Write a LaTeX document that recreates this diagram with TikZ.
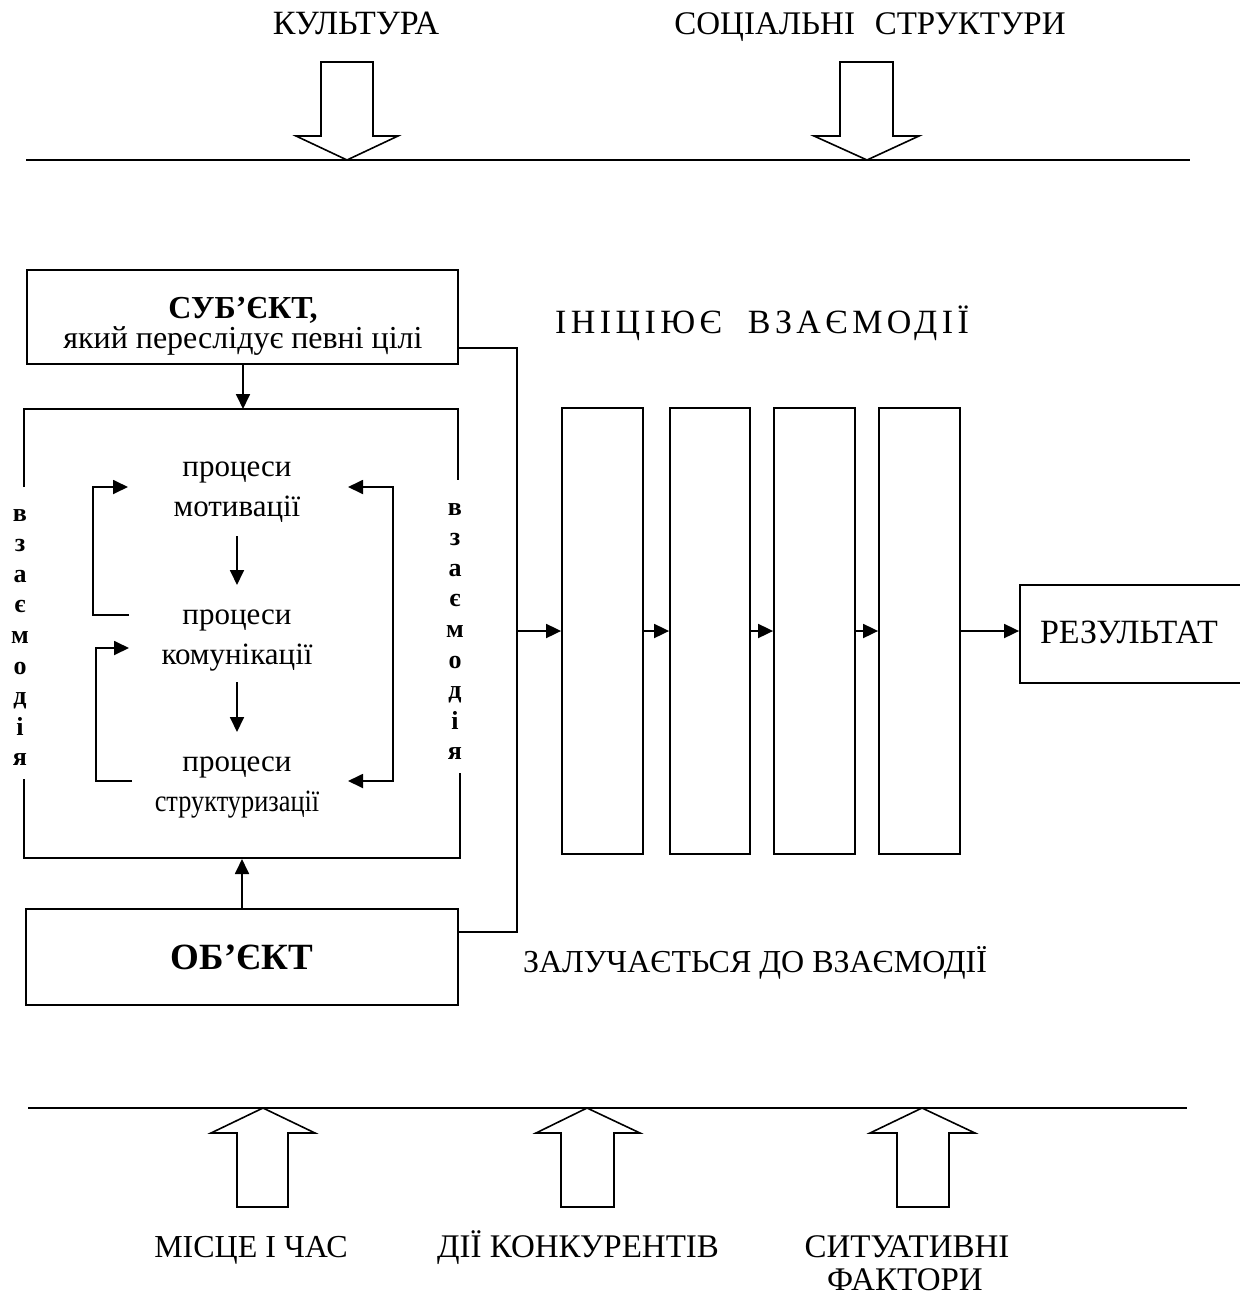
\documentclass[tikz,border=0pt]{standalone}
\usepackage{fontspec}
\usepackage{graphicx}
\setmainfont{Liberation Serif}
\usetikzlibrary{arrows.meta}
\tikzset{
  ln/.style={line width=1.8pt, line cap=butt, line join=miter},
  arr/.style={ln, -{Triangle[length=15pt,width=14pt]}},
  arrboth/.style={ln, {Triangle[length=15pt,width=14pt]}-{Triangle[length=15pt,width=14pt]}},
  lbl/.style={font=\fontsize{31}{40}\selectfont, inner sep=0pt, align=center},
  big/.style={font=\fontsize{34}{40}\selectfont, inner sep=0pt, anchor=base},
  mid/.style={font=\fontsize{33}{40}\selectfont, inner sep=0pt, anchor=base},
  boxx/.style={ln, draw, inner sep=0pt, align=center},
  vert/.style={font=\bfseries\fontsize{26}{30.6}\selectfont, inner sep=0pt, align=center},
  blockarr/.style={line width=1.6pt, line join=miter, fill=white}
}
\begin{document}
\begin{tikzpicture}[x=1pt,y=-1pt]
\useasboundingbox (0,0) rectangle (1239,1295);
% top
\node[big] (cult) at (356,35) {КУЛЬТУРА};
\node[big, font=\fontsize{33}{40}\selectfont] (soc) at (870,35) {СОЦІАЛЬНІ\hspace{0.35em} СТРУКТУРИ};
\coordinate (tl) at (26,160);
\coordinate (tr) at (1190,160);
\draw[ln] (tl) -- (tr);
\draw[blockarr] (321,62) -- (373,62) -- (373,136) -- (398,136) -- (347,160) -- (296,136) -- (321,136) -- cycle;
\draw[blockarr] (840,62) -- (893,62) -- (893,136) -- (919,136) -- (867,160) -- (814,136) -- (840,136) -- cycle;
% subject
\node[boxx, minimum width=431pt, minimum height=94pt] (subj) at (242.5,317) {};
\node[inner sep=0pt, align=center, font=\fontsize{32}{30}\selectfont] (subjT) at (243,326)
  {{\bfseries СУБ’ЄКТ,}\\який переслідує певні цілі};
% frame
\coordinate (ftop) at (243,409);
\coordinate (fbot) at (242,859);
\draw[ln] (24,487) -- (24,409) -- (458,409) -- (458,480);
\draw[ln] (24,779) -- (24,858) -- (460,858) -- (460,773);
\draw[arr] (subj.south -| ftop) -- (ftop);
% inner processes
\node[lbl] (pm) at (237,492.5) {процеси\\мотивації};
\node[lbl] (pk) at (237,641) {процеси\\комунікації};
\node[lbl] (ps) at (237,787.5) {процеси\\\scalebox{0.85}[1]{структуризації}};
\coordinate (d1a) at (237,536); \coordinate (d1b) at (237,585);
\coordinate (d2a) at (237,682); \coordinate (d2b) at (237,732);
\draw[arr] (d1a) -- (d1b);
\draw[arr] (d2a) -- (d2b);
\coordinate (l1s) at (129,615); \coordinate (l1e) at (128,487);
\draw[arr] (l1s) -- (93,615) -- (93,487) -- (l1e);
\coordinate (l2s) at (132,781); \coordinate (l2e) at (129,648);
\draw[arr] (l2s) -- (96,781) -- (96,648) -- (l2e);
\coordinate (r1) at (348,487); \coordinate (r2) at (348,781);
\draw[arrboth] (r1) -- (393,487) -- (393,781) -- (r2);
% vertical words
\node[vert] (vl) at (20,637.5) {в\\з\\а\\є\\м\\о\\д\\і\\я};
\node[vert] (vr) at (455,631.5) {в\\з\\а\\є\\м\\о\\д\\і\\я};
% object
\node[boxx, minimum width=432pt, minimum height=96pt, font=\fontsize{37}{44}\selectfont\bfseries] (obj) at (242,957) {ОБ’ЄКТ};
\draw[arr] (obj.north -| fbot) -- (fbot);
% connector
\coordinate (sj) at (458,348);
\coordinate (oj) at (458,932);
\coordinate (jn) at (517,631);
\draw[ln] (sj) -- (517,348) -- (517,932) -- (oj);
% chain
\node[boxx, minimum width=81pt, minimum height=446pt] (b1) at (602.5,631) {};
\node[boxx, minimum width=80pt, minimum height=446pt] (b2) at (710,631) {};
\node[boxx, minimum width=81pt, minimum height=446pt] (b3) at (814.5,631) {};
\node[boxx, minimum width=81pt, minimum height=446pt] (b4) at (919.5,631) {};
\node[boxx, minimum width=222pt, minimum height=98pt] (res) at (1131,634) {};
\node[big] (resT) at (1129,643) {РЕЗУЛЬТАТ};
\draw[arr] (jn) -- (b1.west);
\draw[arr] (b1.east) -- (b2.west);
\draw[arr] (b2.east) -- (b3.west);
\draw[arr] (b3.east) -- (b4.west);
\draw[arr] (b4.east) -- (b4.east -| res.west);
% texts
\node[big] (init) at (762,333) {\addfontfeature{LetterSpace=13}ІНІЦІЮЄ\ \ ВЗАЄМОДІЇ};
\node[mid, font=\fontsize{32}{40}\selectfont] (inv) at (755,972) {ЗАЛУЧАЄТЬСЯ ДО ВЗАЄМОДІЇ};
% bottom
\coordinate (bl) at (28,1108);
\coordinate (br) at (1187,1108);
\draw[ln] (bl) -- (br);
\draw[blockarr] (237,1207) -- (288,1207) -- (288,1133) -- (315,1133) -- (263,1108) -- (211,1133) -- (237,1133) -- cycle;
\draw[blockarr] (561,1207) -- (614,1207) -- (614,1133) -- (640,1133) -- (587,1108) -- (536,1133) -- (561,1133) -- cycle;
\draw[blockarr] (897,1207) -- (949,1207) -- (949,1133) -- (975,1133) -- (922,1108) -- (870,1133) -- (897,1133) -- cycle;
\node[mid, font=\fontsize{32}{40}\selectfont] (place) at (251,1257) {МІСЦЕ І ЧАС};
\node[mid] (comp) at (578,1257) {ДІЇ КОНКУРЕНТІВ};
\node[mid] (sitA) at (907,1257) {СИТУАТИВНІ};
\node[mid] (sitB) at (905,1290) {ФАКТОРИ};
\end{tikzpicture}
\end{document}
